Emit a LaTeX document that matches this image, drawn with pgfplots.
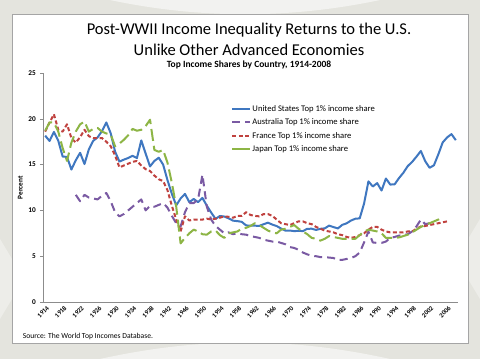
\documentclass[border=0pt]{standalone}
\usepackage{fontspec}
\setmainfont{Carlito}
\usepackage{pgfplots}
\pgfplotsset{compat=1.18}
\definecolor{usblue}{HTML}{3F77C0}
\definecolor{aupurple}{HTML}{7A5AA3}
\definecolor{frred}{HTML}{C0423F}
\definecolor{jpgreen}{HTML}{8DB545}
\definecolor{bgc}{RGB}{228,228,222}
\definecolor{axgray}{RGB}{140,140,140}
\begin{document}
\begin{tikzpicture}[x=1pt,y=1pt]
\path[use as bounding box] (0,0) rectangle (480,359);
\fill[bgc] (0,0) rectangle (480,359);
\fill[white,opacity=0.55] (110,359) .. controls (200,340) and (290,340) .. (380,359) -- cycle;
\fill[white,opacity=0.55] (100,0) .. controls (200,22) and (290,22) .. (390,0) -- cycle;
\fill[white,opacity=0.35] (0,40) -- (0,120) -- (12,100) -- (12,60) -- cycle;
\fill[white,opacity=0.35] (480,60) -- (480,140) -- (468,120) -- (468,80) -- cycle;
\draw[fill=white,draw={rgb,255:red,165;green,165;blue,165},line width=0.8pt] (12,16) rectangle (468,345);
\node[font=\fontsize{16.5}{19}\selectfont] at (249,329) {Post-WWII Income Inequality Returns to the U.S.};
\node[font=\fontsize{16.5}{19}\selectfont] at (249,309) {Unlike Other Advanced Economies};
\node[font=\bfseries\fontsize{9.5}{11}\selectfont] at (249,294.5) {Top Income Shares by Country, 1914-2008};
\node[anchor=west,font=\fontsize{7.6}{9}\selectfont,inner sep=0pt] at (22.7,22.3) {Source: The World Top Incomes Database.};
\begin{axis}[
  at={(43pt,57pt)}, anchor=south west,
  scale only axis, width=415pt, height=229pt,
  xmin=1913.5, xmax=2008.5, ymin=0, ymax=25,
  axis x line*=bottom, axis y line*=left,
  axis line style={axgray, line width=0.6pt},
  xtick={1914,1918,...,2006},
  ytick={0,5,...,25},
  x tick style={draw=none},
  y tick style={axgray, line width=0.6pt},
  tick align=outside, major tick length=3pt,
  /pgf/number format/1000 sep={},
  /pgf/number format/assume math mode=true,
  yticklabel style={font=\bfseries\fontsize{7.3}{8}\selectfont, inner sep=1pt, xshift=-3pt},
  xticklabel style={font=\bfseries\fontsize{6.6}{7}\selectfont, rotate=45, anchor=east, inner sep=0.5pt, yshift=-3.5pt, xshift=1pt},
  ylabel={Percent},
  ylabel style={at={(axis description cs:-0.055,0.5)}, anchor=center, font=\bfseries\fontsize{7.3}{8}\selectfont},
  legend style={at={(rel axis cs:0.446,0.8725)}, anchor=north west, draw=none, fill=none,
     font=\fontsize{8.6}{10}\selectfont, row sep=4.5pt, column sep=0pt,
     nodes={inner xsep=1pt, inner ysep=0pt, text height=7pt, text depth=2pt}},
  legend cell align=left,
  legend image code/.code={\draw[#1] (0pt,0pt) -- (18pt,0pt);},
  every axis plot/.append style={line width=2pt, line join=round},
]
\addplot[usblue] table {
1914 18.16
1915 17.58
1916 18.57
1917 17.60
1918 15.88
1919 15.84
1920 14.46
1921 15.47
1922 16.29
1923 15.06
1924 16.67
1925 17.60
1926 17.97
1927 18.66
1928 19.60
1929 18.42
1930 16.42
1931 15.33
1932 15.54
1933 15.72
1934 15.96
1935 15.71
1936 17.64
1937 16.20
1938 14.80
1939 15.40
1940 15.75
1941 15.00
1942 13.30
1943 11.80
1944 10.55
1945 11.30
1946 11.80
1947 10.90
1948 11.25
1949 10.90
1950 11.36
1951 10.52
1952 9.76
1953 9.08
1954 9.39
1955 9.33
1956 9.13
1957 8.88
1958 8.83
1959 8.75
1960 8.36
1961 8.33
1962 8.33
1963 8.31
1964 8.49
1965 8.66
1966 8.45
1967 8.29
1968 8.02
1969 7.79
1970 7.80
1971 7.74
1972 7.77
1973 7.74
1974 7.99
1975 8.00
1976 7.87
1977 7.99
1978 8.04
1979 8.34
1980 8.18
1981 8.03
1982 8.42
1983 8.59
1984 8.89
1985 9.09
1986 9.13
1987 10.75
1988 13.17
1989 12.61
1990 12.98
1991 12.17
1992 13.48
1993 12.82
1994 12.85
1995 13.53
1996 14.11
1997 14.84
1998 15.29
1999 15.87
2000 16.49
2001 15.37
2002 14.65
2003 14.93
2004 16.12
2005 17.42
2006 17.96
2007 18.33
2008 17.67
};
\addlegendentry{United States Top 1\% income share}
\addplot[aupurple, dash pattern=on 8pt off 5pt] table {
1921 11.7
1922 11.0
1923 11.7
1924 11.4
1925 11.3
1926 11.2
1927 11.6
1928 11.9
1929 11.0
1930 9.8
1931 9.35
1932 9.6
1933 10.0
1934 10.4
1935 10.8
1936 11.2
1937 10.0
1938 10.5
1939 10.4
1940 10.6
1941 10.8
1942 10.3
1943 9.4
1944 8.6
1945 8.25
1946 9.8
1947 10.8
1948 10.8
1949 11.2
1950 13.9
1951 10.4
1952 9.0
1953 8.3
1954 7.9
1955 7.5
1956 7.6
1957 7.4
1958 7.5
1959 7.4
1960 7.35
1961 7.2
1962 7.1
1963 7.0
1964 6.8
1965 6.7
1966 6.6
1967 6.6
1968 6.45
1969 6.3
1970 6.0
1971 5.9
1972 5.7
1973 5.4
1974 5.2
1975 5.05
1976 5.0
1977 4.9
1978 4.9
1979 4.85
1980 4.8
1981 4.6
1982 4.6
1983 4.7
1984 4.8
1985 5.0
1986 5.4
1987 6.5
1988 7.7
1989 6.5
1990 6.45
1991 6.45
1992 6.6
1993 7.0
1994 7.1
1995 7.25
1996 7.3
1997 7.4
1998 7.7
1999 8.25
2000 9.0
2001 8.5
2002 8.6
};
\addlegendentry{Australia Top 1\% income share}
\addplot[frred, dash pattern=on 4pt off 2.5pt] table {
1914 18.6
1915 19.6
1916 20.5
1917 18.8
1918 18.6
1919 19.4
1920 17.9
1921 17.4
1922 18.0
1923 18.8
1924 18.1
1925 17.9
1926 17.9
1927 17.9
1928 17.5
1929 17.0
1930 16.0
1931 14.7
1932 14.9
1933 15.1
1934 15.3
1935 15.4
1936 14.9
1937 14.5
1938 14.3
1939 13.8
1940 13.4
1941 13.2
1942 12.2
1943 10.5
1944 9.0
1945 7.7
1946 9.35
1947 8.9
1948 9.0
1949 9.0
1950 9.0
1951 9.1
1952 9.0
1953 9.1
1954 9.2
1955 9.35
1956 9.3
1957 9.2
1958 9.4
1959 9.4
1960 9.8
1961 9.5
1962 9.4
1963 9.35
1964 9.6
1965 9.6
1966 9.4
1967 9.0
1968 8.6
1969 8.5
1970 8.4
1971 8.6
1972 8.8
1973 8.8
1974 8.6
1975 8.5
1976 8.2
1977 8.0
1978 7.8
1979 7.7
1980 7.6
1981 7.4
1982 7.3
1983 7.1
1984 7.0
1985 7.1
1986 7.3
1987 7.5
1988 7.9
1989 8.2
1990 8.2
1991 7.9
1992 7.7
1993 7.6
1994 7.6
1995 7.6
1996 7.6
1997 7.7
1998 7.7
1999 8.0
2000 8.25
2001 8.3
2002 8.4
2003 8.5
2004 8.6
2005 8.7
2006 8.8
};
\addlegendentry{France Top 1\% income share}
\addplot[jpgreen, dash pattern=on 12pt off 5pt, forget plot] table {
1914 18.7
1915 19.6
1916 19.6
1917 18.6
1918 16.8
1919 15.4
1920 17.4
1921 18.6
1922 19.4
1923 19.7
1924 18.6
1925 18.9
1926 19.0
1927 18.6
1928 18.4
1929 18.3
1930 17.0
1931 17.3
1932 17.7
1933 18.2
1934 18.9
1935 18.7
1936 18.8
1937 19.2
1938 19.9
1939 16.6
1940 16.4
1941 16.6
1942 15.2
1943 13.0
1944 10.4
1945 6.4
1946 7.0
1947 7.5
1948 7.9
1949 7.7
1950 7.4
1951 7.35
1952 7.7
1953 7.8
1954 7.3
1955 7.0
1956 7.5
1957 7.6
1958 7.7
1959 8.0
1960 8.1
1961 8.3
1962 8.6
1963 8.4
1964 8.1
1965 7.8
1966 7.6
1967 7.5
1968 7.9
1969 8.0
1970 8.2
1971 8.4
1972 8.0
1973 7.7
1974 7.4
1975 7.0
1976 6.9
1977 6.7
1978 6.9
1979 7.2
1980 7.1
1981 7.0
1982 6.9
1983 6.9
1984 6.9
1985 6.9
1986 7.3
1987 7.7
1988 7.9
1989 7.8
1990 7.7
1991 7.5
1992 7.0
1993 7.0
1994 7.0
1995 7.05
1996 7.2
1997 7.35
1998 7.6
1999 7.9
2000 8.2
2001 8.4
2002 8.6
2003 8.8
2004 9.0
2005 9.3
};
\addlegendimage{legend image code/.code={\draw[jpgreen, line width=2.2pt] (0pt,0.5pt) -- (18pt,0.5pt);}}
\addlegendentry{Japan Top 1\% income share}
\end{axis}
\end{tikzpicture}
\end{document}
